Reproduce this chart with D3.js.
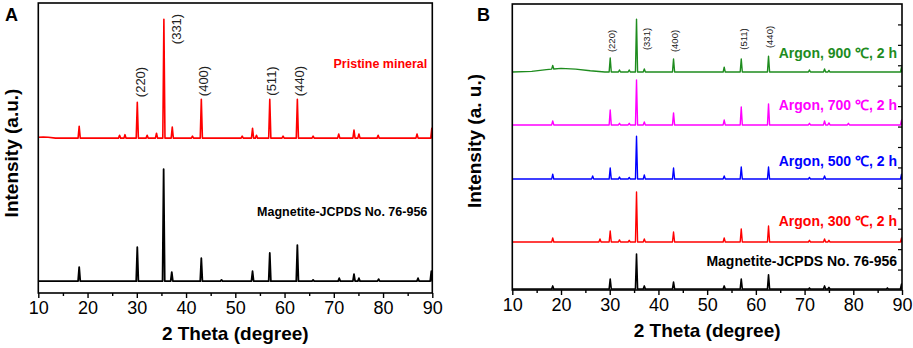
<!DOCTYPE html>
<html>
<head>
<meta charset="utf-8">
<script src="https://cdn.jsdelivr.net/npm/d3@7"></script>
<style>
  body { margin: 0; background: #fff; }
  text { font-family: "Liberation Sans", Arial, sans-serif; }
</style>
</head>
<body>
<svg width="913" height="348"></svg>
<script>
// ---- data (2 theta in degrees, intensity in a.u.) ----
var thetaTicks = [10, 20, 30, 40, 50, 60, 70, 80, 90];
var thetaMinor = [15, 25, 35, 45, 55, 65, 75, 85];
var hklLabels = ["(220)", "(331)", "(400)", "(511)", "(440)"];
var hklTheta = [30.1, 35.5, 43.1, 57.0, 62.6];

// panel A
var aRedOffset = 534;
var aRedBg = [[10, 3], [11, 4], [12, 3], [13.5, 0], [90, 0]];
var aRedPeaks = [[18.3, 41], [26.5, 10], [27.6, 12], [30.1, 124], [32.1, 10], [34.0, 17], [35.5, 410],
  [37.2, 38], [41.3, 7], [43.1, 134], [51.4, 7], [53.5, 34], [54.3, 10], [57.0, 134], [59.7, 7],
  [62.6, 134], [65.8, 7], [71.0, 14], [74.1, 28], [75.1, 14], [79.0, 10], [86.9, 14], [89.9, 34]];
var aBlackOffset = 41;
var aBlackPeaks = [[18.3, 48], [30.1, 117], [35.45, 386], [37.1, 31], [43.1, 79], [47.2, 4], [53.5, 34],
  [57.0, 97], [62.6, 124], [65.8, 4], [71.1, 10], [74.1, 24], [75.1, 10], [79.1, 7], [87.1, 10], [89.8, 34]];

// panel B
var bGreenOffset = 1067;
var bGreenBg = [[10, 0], [14, 3], [17, 12], [20, 18], [23, 14], [26, 6], [29, 0], [90, 0]];
var bGreenPeaks = [[18.3, 18], [30.1, 69], [32.0, 10], [34.0, 10], [35.5, 259], [37.1, 15], [43.1, 64],
  [53.5, 24], [57.0, 64], [62.6, 78], [71.0, 10], [74.1, 15], [75.0, 8], [89.9, 24]];
var bMagentaOffset = 808;
var bMagentaPeaks = [[18.3, 20], [30.1, 73], [32.0, 8], [34.0, 8], [35.5, 220], [37.1, 15], [43.1, 59],
  [53.5, 24], [57.0, 88], [62.6, 103], [71.0, 8], [74.1, 20], [75.0, 10], [79.0, 8], [89.9, 24]];
var bBlueOffset = 543;
var bBluePeaks = [[18.3, 24], [26.5, 15], [30.1, 54], [32.0, 10], [34.0, 8], [35.5, 210], [37.1, 20],
  [43.1, 54], [53.5, 15], [57.0, 59], [62.6, 59], [71.0, 8], [74.1, 15], [89.9, 24]];
var bRedOffset = 235;
var bRedPeaks = [[18.3, 20], [28.0, 15], [30.1, 54], [32.0, 10], [34.0, 8], [35.5, 245], [37.1, 15],
  [43.1, 49], [53.5, 20], [57.0, 64], [62.6, 78], [71.0, 8], [74.1, 15], [75.0, 8], [89.9, 20]];
var bBlackOffset = 5;
var bBlackPeaks = [[18.3, 15], [30.1, 49], [35.5, 171], [37.1, 15], [43.1, 34], [53.5, 15], [57.0, 49],
  [62.6, 69], [71.0, 5], [74.1, 15], [75.0, 8], [87.0, 5], [89.9, 24]];
var bRightTicks = [100, 200, 300, 400, 500, 600, 700, 800, 900, 1000, 1100, 1200, 1300];

var svg = d3.select("svg");
var flat = [[10, 0], [90, 0]];

// build a pattern: background points + narrow triangular peaks
function pattern(offset, bg, peaks) {
  var hw = 0.22;
  function bgAt(t) {
    for (var i = 1; i < bg.length; i++) {
      if (t <= bg[i][0]) {
        var a = bg[i - 1], b = bg[i];
        return a[1] + (b[1] - a[1]) * (t - a[0]) / (b[0] - a[0]);
      }
    }
    return bg[bg.length - 1][1];
  }
  var pts = bg.map(function(d) { return [d[0], offset + d[1]]; });
  peaks.forEach(function(p) {
    pts.push([p[0] - hw, offset + bgAt(p[0] - hw)]);
    pts.push([p[0], offset + bgAt(p[0]) + p[1]]);
    pts.push([p[0] + hw, offset + bgAt(p[0] + hw)]);
  });
  pts.sort(function(a, b) { return a[0] - b[0]; });
  return pts;
}

function panel(o) {
  var x = d3.scaleLinear().domain([10, 90]).range([o.left, o.right]);
  var y = d3.scaleLinear().domain(o.ydomain).range([o.bottom, o.top]);
  var g = svg.append("g");
  var clipId = "clip" + o.name;
  g.append("clipPath").attr("id", clipId).append("rect")
    .attr("x", o.left).attr("y", o.top).attr("width", o.right - o.left).attr("height", o.bottom - o.top);
  var line = d3.line().x(function(d) { return x(d[0]); }).y(function(d) { return y(d[1]); });
  o.series.forEach(function(s) {
    g.append("path").attr("clip-path", "url(#" + clipId + ")")
      .attr("d", line(pattern(s.offset, s.bg || flat, s.peaks)))
      .attr("fill", "none").attr("stroke", s.color).attr("stroke-width", s.width)
      .attr("stroke-linejoin", "round");
    g.append("text").attr("x", o.right - 5).attr("y", s.labelY).attr("dy", "0.35em")
      .attr("text-anchor", "end").attr("font-weight", "bold").attr("font-size", o.labelSize)
      .attr("fill", s.color).text(s.label);
  });
  // frame
  g.append("rect").attr("x", o.left).attr("y", o.top).attr("width", o.right - o.left)
    .attr("height", o.bottom - o.top).attr("fill", "none").attr("stroke", "#000").attr("stroke-width", 1.6);
  // x axis
  var ax = g.append("g").attr("transform", "translate(0," + o.bottom + ")")
    .call(d3.axisBottom(x).tickValues(thetaTicks).tickSize(5).tickPadding(3).tickFormat(d3.format("d")));
  ax.select(".domain").remove();
  ax.selectAll("line").attr("stroke-width", 1.4);
  ax.selectAll("text").attr("font-size", 18).attr("fill", "#000");
  var mx = g.append("g").attr("transform", "translate(0," + o.bottom + ")")
    .call(d3.axisBottom(x).tickValues(thetaMinor).tickSize(3).tickFormat(""));
  mx.select(".domain").remove();
  mx.selectAll("line").attr("stroke-width", 1.4);
  if (o.rightTicks) {
    var ry = g.append("g").attr("transform", "translate(" + o.right + ",0)")
      .call(d3.axisLeft(y).tickValues(o.rightTicks).tickSize(4).tickFormat(""));
    ry.select(".domain").remove();
    ry.selectAll("line").attr("stroke-width", 1.2);
  }
  g.append("text").attr("x", (o.left + o.right) / 2).attr("y", o.bottom + 47)
    .attr("text-anchor", "middle").attr("font-weight", "bold").attr("font-size", 19).text("2 Theta (degree)");
  g.append("text").attr("transform", "translate(" + o.ytitleX + "," + o.ytitleY + ") rotate(-90)")
    .attr("dy", "0.35em").attr("text-anchor", "middle").attr("font-weight", "bold").attr("font-size", 19)
    .text(o.ytitle);
  g.append("text").attr("x", o.letterX).attr("y", 21).attr("font-weight", "bold").attr("font-size", 18)
    .text(o.name);
  // reflection labels
  hklLabels.forEach(function(lab, i) {
    g.append("text")
      .attr("transform", "translate(" + (x(hklTheta[i]) + o.hklDx[i]) + "," + o.hklY[i] + ") rotate(-90)")
      .attr("dy", "0.35em").attr("text-anchor", "middle").attr("font-size", o.hklSize).attr("fill", "#222")
      .text(lab);
  });
  return g;
}

panel({
  name: "A", left: 38.3, right: 432.3, top: 3, bottom: 293, ydomain: [0, 1000],
  ytitle: "Intensity (a.u.)", ytitleX: 11, ytitleY: 153, letterX: 5, labelSize: 12.5,
  hklDx: [3, 13, 2, 2, 2], hklY: [82, 29, 81, 81, 81], hklSize: 13,
  series: [
    { offset: aRedOffset, bg: aRedBg, peaks: aRedPeaks, color: "#ff0000", width: 1.6, label: "Pristine mineral", labelY: 64 },
    { offset: aBlackOffset, peaks: aBlackPeaks, color: "#000", width: 1.8, label: "Magnetite-JCPDS No. 76-956", labelY: 212 }
  ]
});

panel({
  name: "B", left: 512.3, right: 902, top: 4, bottom: 290, ydomain: [0, 1400],
  ytitle: "Intensity (a. u.)", ytitleX: 474, ytitleY: 141, letterX: 477, labelSize: 14,
  hklDx: [1, 10, 1, 2, 1], hklY: [41, 39, 41, 39, 37], hklSize: 9.5, rightTicks: bRightTicks,
  series: [
    { offset: bGreenOffset, bg: bGreenBg, peaks: bGreenPeaks, color: "#1e8c1e", width: 1.4, label: "Argon, 900 \u2103, 2 h", labelY: 53 },
    { offset: bMagentaOffset, peaks: bMagentaPeaks, color: "#ff00ff", width: 1.4, label: "Argon, 700 \u2103, 2 h", labelY: 105 },
    { offset: bBlueOffset, peaks: bBluePeaks, color: "#0000ff", width: 1.4, label: "Argon, 500 \u2103, 2 h", labelY: 161 },
    { offset: bRedOffset, peaks: bRedPeaks, color: "#ff0000", width: 1.4, label: "Argon, 300 \u2103, 2 h", labelY: 221 },
    { offset: bBlackOffset, peaks: bBlackPeaks, color: "#000", width: 1.6, label: "Magnetite-JCPDS No. 76-956", labelY: 261 }
  ]
});
</script>
</body>
</html>
